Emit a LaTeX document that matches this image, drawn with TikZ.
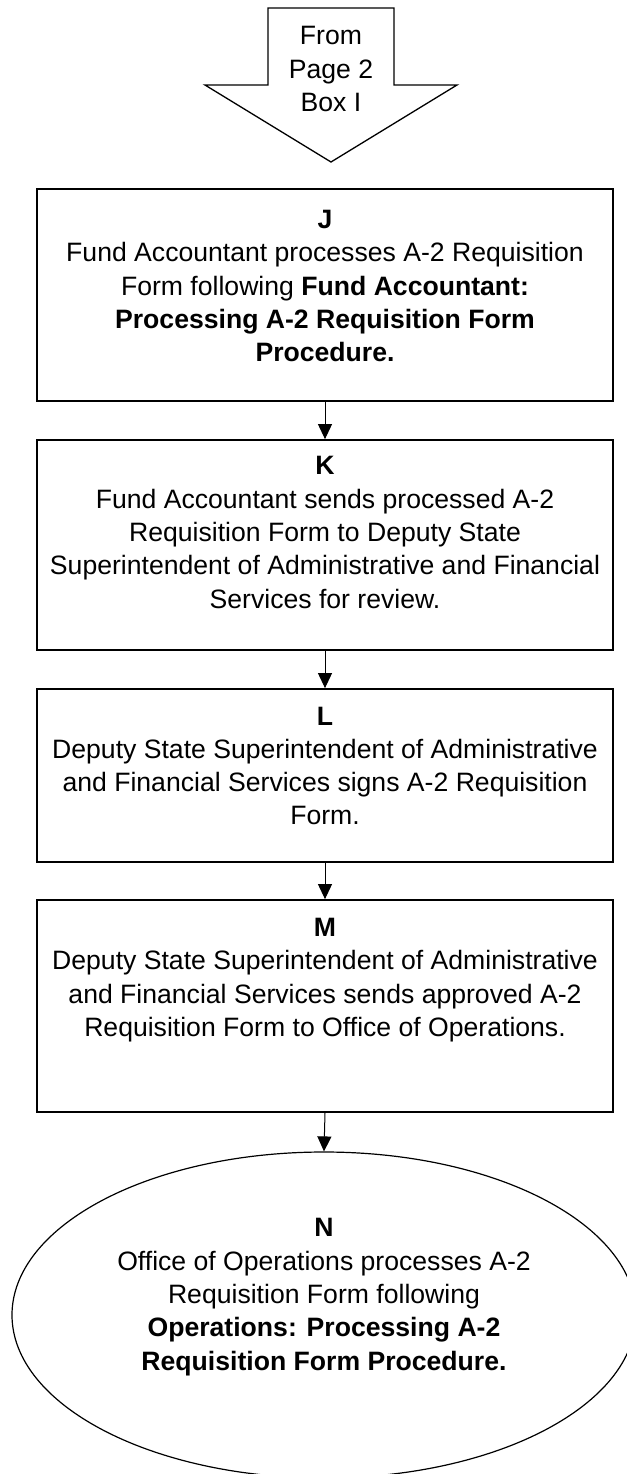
\documentclass[tikz,border=0pt]{standalone}
\usepackage{fontspec}
\setmainfont{Liberation Sans}
\usetikzlibrary{shapes.geometric,arrows.meta}
\begin{document}
\begin{tikzpicture}[x=0.5pt,y=-0.5pt,
  box/.style={draw,line width=0.9pt,minimum width=288pt,inner sep=0pt},
  txt/.style={align=center,inner sep=0pt,font=\fontsize{13.3}{16.65}\selectfont},
  conn/.style={line width=0.5pt,-{Triangle[length=7.5pt,width=7pt]}},
  oval/.style={draw,line width=0.6pt,ellipse,minimum width=312pt,minimum height=163pt,inner sep=0pt}]
\clip (0,0) rectangle (627,1474);
\fill[white] (0,0) rectangle (627,1474);
% off-page connector arrow
\draw[line width=0.65pt,line join=miter] (268,8) -- (394,8) -- (394,85) -- (457,85) -- (331,162) -- (205,85) -- (268,85) -- cycle;
\node[txt] (from) at (331,69) {From\\Page 2\\Box I};
% boxes
\node[box,minimum height=106pt] (J) at (325,295) {};
\node[txt] (Jt) at (325,286) {\textbf{J}\\Fund Accountant processes A-2 Requisition\\Form following \textbf{Fund Accountant:}\\\textbf{Processing A-2 Requisition Form}\\\textbf{Procedure.}};
\node[box,minimum height=105pt] (K) at (325,545) {};
\node[txt] (Kt) at (325,532.5) {\textbf{K}\\Fund Accountant sends processed A-2\\Requisition Form to Deputy State\\Superintendent of Administrative and Financial\\Services for review.};
\node[box,minimum height=86.5pt] (L) at (325,775.5) {};
\node[txt] (Lt) at (325,766) {\textbf{L}\\Deputy State Superintendent of Administrative\\and Financial Services signs A-2 Requisition\\Form.};
\node[box,minimum height=106pt] (M) at (325,1006) {};
\node[txt] (Mt) at (325,980) {\textbf{M}\\Deputy State Superintendent of Administrative\\and Financial Services sends approved A-2\\Requisition Form to Office of Operations.};
\node[oval] (N) at (324,1315) {};
\node[txt] (Nt) at (324,1297) {\textbf{N}\\Office of Operations processes A-2\\Requisition Form following\\\textbf{Operations: Processing A-2}\\\textbf{Requisition Form Procedure.}};
% connectors
\draw[conn] (J.south) -- (K.north);
\draw[conn] (K.south) -- (L.north);
\draw[conn] (L.south) -- (M.north);
\draw[conn] (M.south) -- (N.north);
\end{tikzpicture}
\end{document}
